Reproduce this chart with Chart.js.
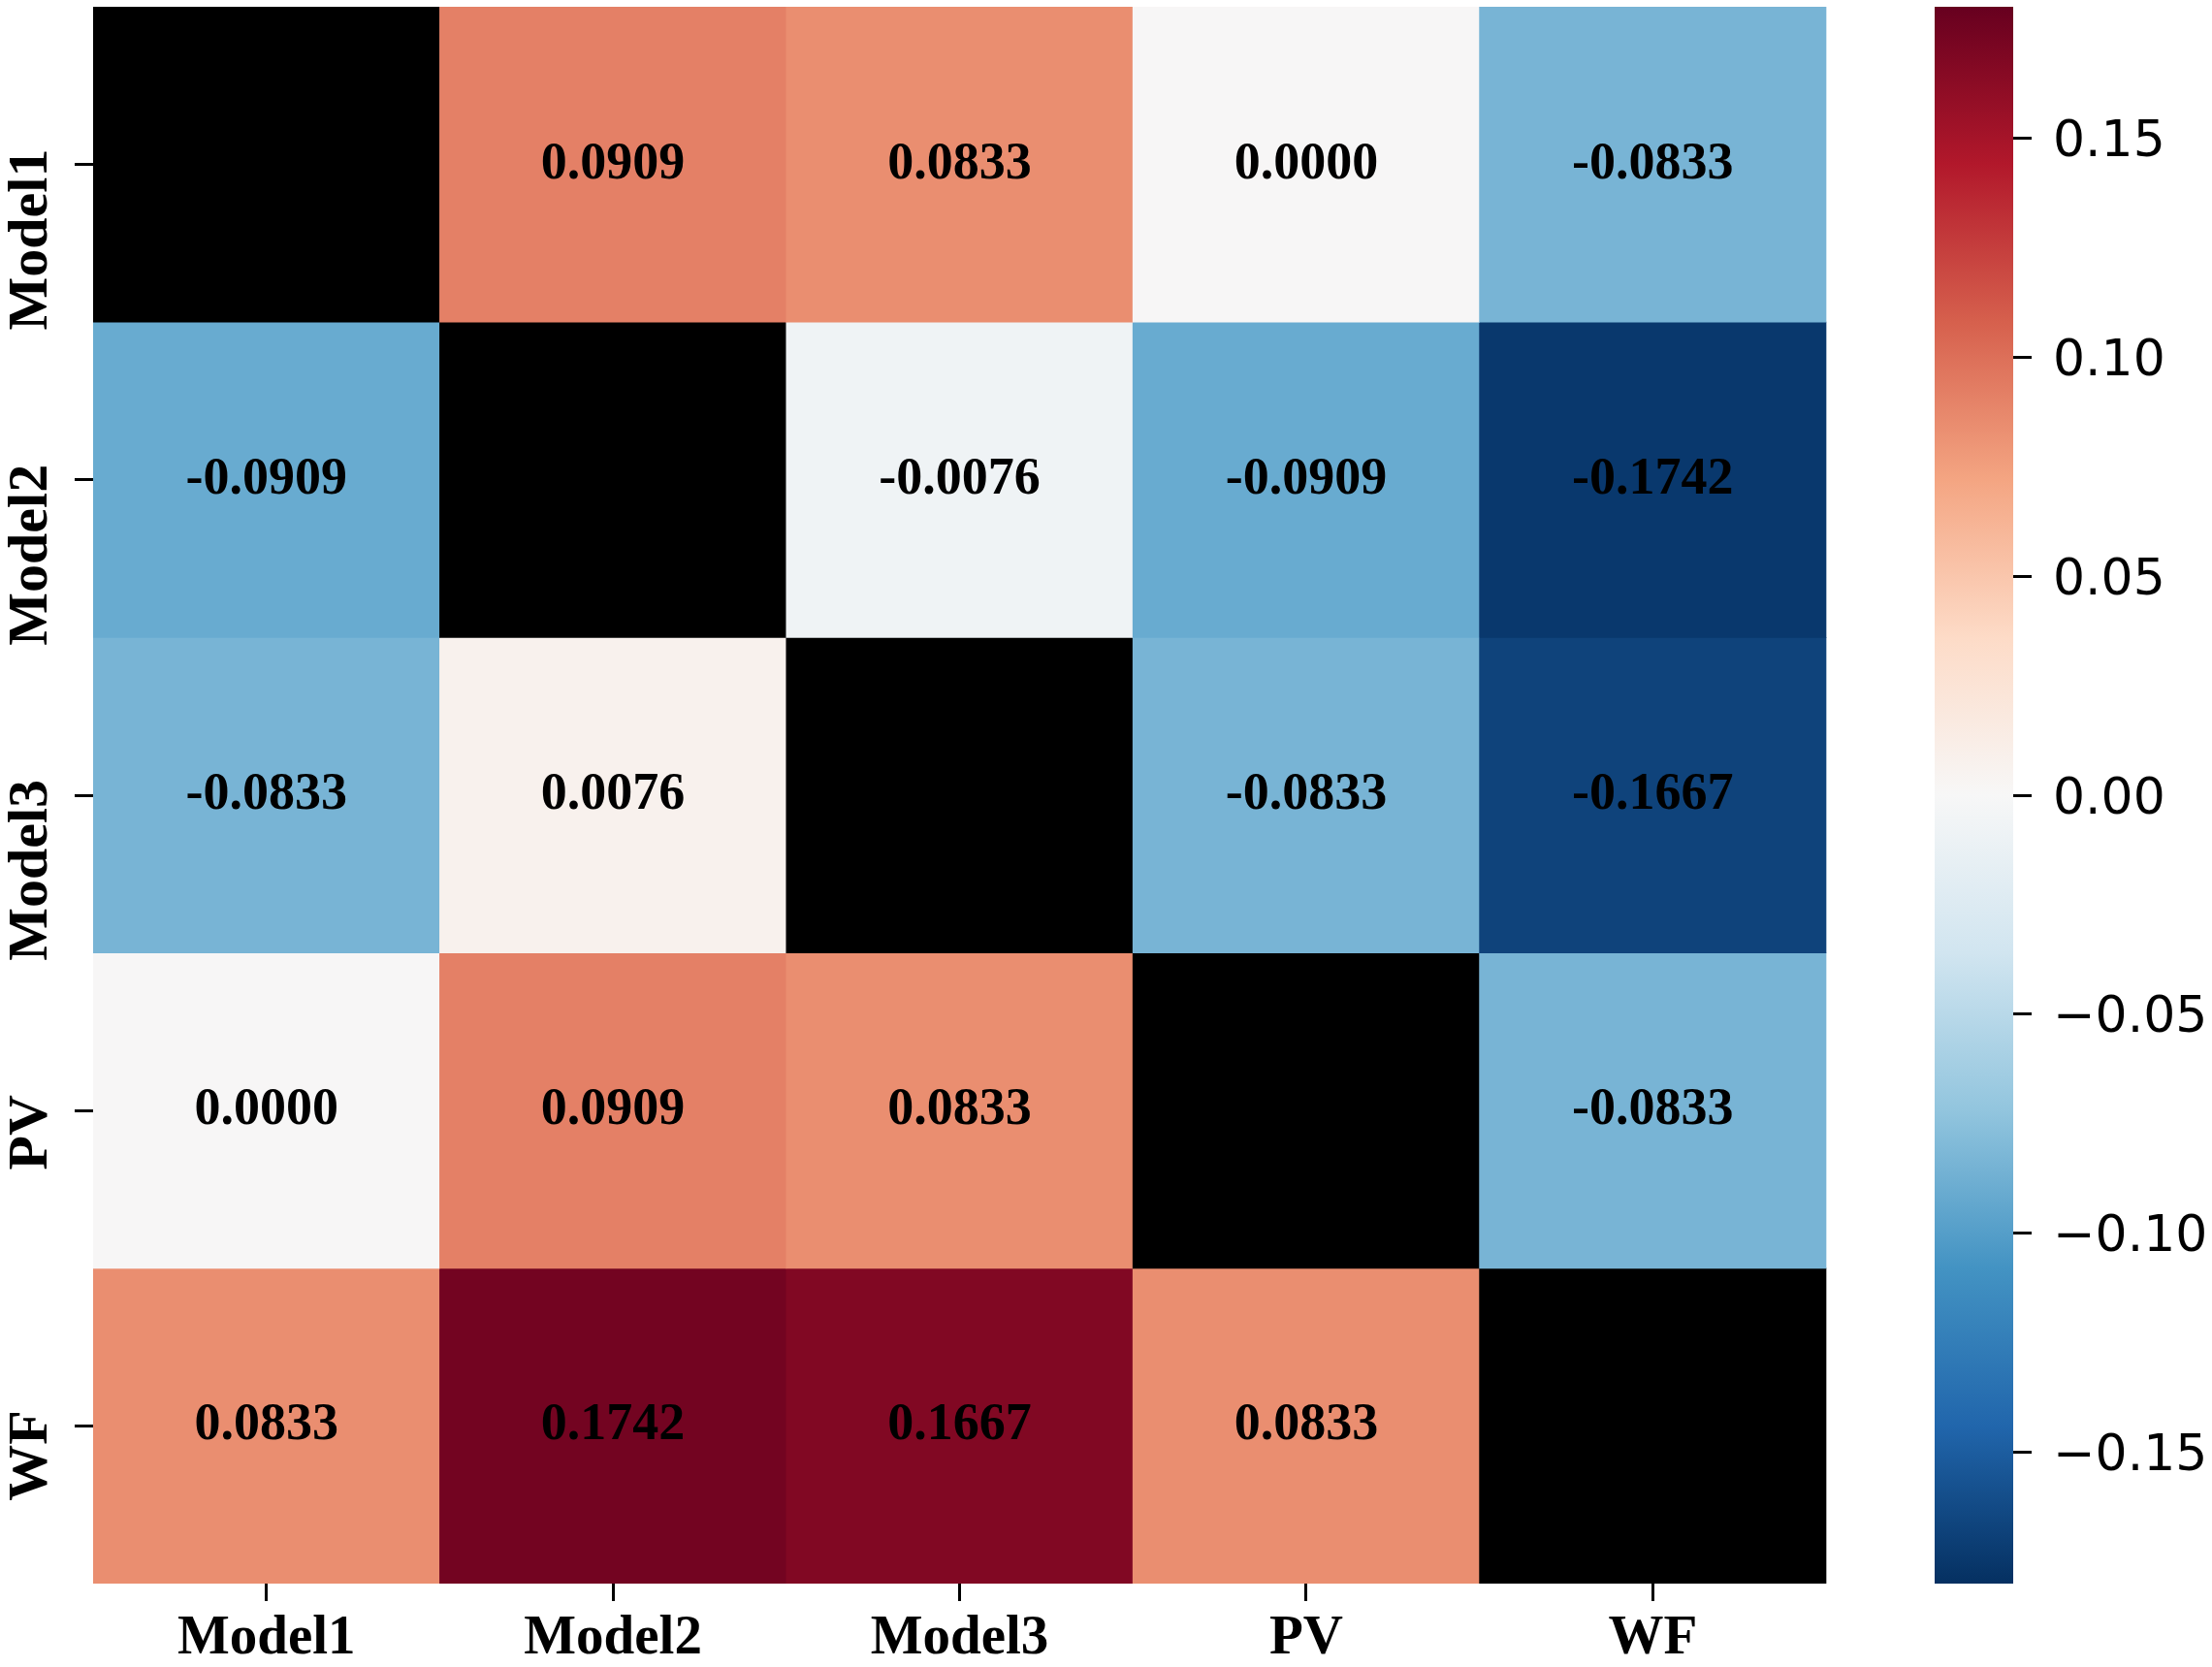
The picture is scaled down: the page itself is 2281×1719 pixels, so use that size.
<!DOCTYPE html>
<html><head><meta charset="utf-8">
<style>html,body{margin:0;padding:0;background:#fff;overflow:hidden}canvas{display:block}</style>
<script src="https://cdn.jsdelivr.net/npm/chart.js@4.4.1/dist/chart.umd.min.js"></script>
</head><body>
<canvas id="c" width="2281" height="1719"></canvas>
<script>
// ---- data ----
const rowLabels = ['Model1','Model2','Model3','PV','WF'];
const colLabels = ['Model1','Model2','Model3','PV','WF'];
const rowModel1 = [null, 0.0909, 0.0833, 0.0000, -0.0833];
const rowModel2 = [-0.0909, null, -0.0076, -0.0909, -0.1742];
const rowModel3 = [-0.0833, 0.0076, null, -0.0833, -0.1667];
const rowPV     = [0.0000, 0.0909, 0.0833, null, -0.0833];
const rowWF     = [0.0833, 0.1742, 0.1667, 0.0833, null];
const colorbarTicks = [-0.15, -0.10, -0.05, 0.00, 0.05, 0.10, 0.15];
const vmin = -0.18, vmax = 0.18;
const matrix = [rowModel1, rowModel2, rowModel3, rowPV, rowWF];

// ---- colormap (RdBu_r, 256-entry lookup like matplotlib) ----
const RDBU_R = ['#053061','#2166ac','#4393c3','#92c5de','#d1e5f0','#f7f7f7','#fddbc7','#f4a582','#d6604d','#b2182b','#67001f'];
function hexToRgb(h){return [parseInt(h.slice(1,3),16),parseInt(h.slice(3,5),16),parseInt(h.slice(5,7),16)];}
function cmap(v){
  let t = (v - vmin) / (vmax - vmin); t = Math.max(0, Math.min(1, t));
  const idx = Math.min(255, Math.floor(t * 256));
  t = idx / 255;
  const p = t * (RDBU_R.length - 1);
  const i = Math.min(Math.floor(p), RDBU_R.length - 2); const f = p - i;
  const a = hexToRgb(RDBU_R[i]), b = hexToRgb(RDBU_R[i+1]);
  return 'rgb(' + a.map((c,k)=>Math.round(c + (b[k]-c)*f)).join(',') + ')';
}

// ---- layout ----
const W = 2281, H = 1719;
const AREA_LEFT = 96, AREA_TOP = 7, AREA_BOTTOM = 1633;
const HEAT_RIGHT = 1883, CB_LEFT = 1995, CB_RIGHT = 2076;
const unitPx = (HEAT_RIGHT - AREA_LEFT) / colLabels.length;
const xMax = -0.5 + (CB_RIGHT - AREA_LEFT) / unitPx;
const SERIF = '"Liberation Serif", "Times New Roman", serif';

function noPad(s){ s.paddingTop = 0; s.paddingBottom = 0; s.paddingLeft = 0; s.paddingRight = 0; }
function fmtTick(v){ return (v < -1e-9 ? '\u2212' : '') + Math.abs(v).toFixed(2); }

const datasets = matrix.map((row, i) => ({
  type: 'bar',
  label: rowLabels[i],
  data: row.map((v, j) => ({ x: j, y: [i - 0.5, i + 0.5], v: v })),
  backgroundColor: row.map(v => v === null ? '#000000' : cmap(v)),
  borderWidth: 0,
  grouped: false,
  barPercentage: 1,
  categoryPercentage: 1,
  xAxisID: 'x',
  yAxisID: 'y'
}));

const colorbarPlugin = {
  id: 'colorbar',
  beforeDatasetsDraw(chart) {
    const { ctx, scales: { y2 } } = chart;
    const top = y2.getPixelForValue(vmax), bot = y2.getPixelForValue(vmin);
    const right = chart.chartArea.right;
    const g = ctx.createLinearGradient(0, bot, 0, top);
    RDBU_R.forEach((c, k) => g.addColorStop(k / (RDBU_R.length - 1), c));
    ctx.save();
    ctx.fillStyle = g;
    ctx.fillRect(CB_LEFT, top, right - CB_LEFT, bot - top);
    ctx.restore();
  },
  afterDraw(chart) {
    const { ctx, scales: { y2 } } = chart;
    const right = chart.chartArea.right;
    ctx.save();
    ctx.fillStyle = '#000';
    ctx.font = '52px "DejaVu Sans"';
    ctx.textAlign = 'left';
    ctx.textBaseline = 'middle';
    colorbarTicks.forEach(v => {
      ctx.fillText(fmtTick(v), right + 41, y2.getPixelForValue(v) + 5);
    });
    ctx.restore();
  }
};

const labelsPlugin = {
  id: 'heatLabels',
  afterDatasetsDraw(chart) {
    const { ctx, scales: { x, y } } = chart;
    ctx.save();
    ctx.fillStyle = '#000';
    ctx.font = 'bold 54px ' + SERIF;
    ctx.textAlign = 'center';
    ctx.textBaseline = 'middle';
    matrix.forEach((row, i) => row.forEach((v, j) => {
      if (v === null) return;
      ctx.fillText(v.toFixed(4), x.getPixelForValue(j), y.getPixelForValue(i));
    }));
    // rotated row labels
    ctx.font = 'bold 58px ' + SERIF;
    ctx.textAlign = 'right';
    ctx.textBaseline = 'alphabetic';
    rowLabels.forEach((lab, i) => {
      const py = y.getPixelForValue(i);
      ctx.save();
      ctx.translate(48, py - 16);
      ctx.rotate(-Math.PI / 2);
      ctx.fillText(lab, 0, 0);
      ctx.restore();
    });
    ctx.restore();
  }
};

new Chart(document.getElementById('c'), {
  type: 'bar',
  data: { datasets },
  options: {
    responsive: false,
    devicePixelRatio: 1,
    animation: false,
    events: [],
    layout: { padding: { top: AREA_TOP, left: 0, right: 0, bottom: 0 } },
    plugins: { legend: { display: false }, tooltip: { enabled: false } },
    scales: {
      x: {
        type: 'linear', position: 'bottom', min: -0.5, max: xMax, offset: false,
        afterBuildTicks: s => { s.ticks = colLabels.map((_, j) => ({ value: j })); },
        afterFit: s => { s.height = H - AREA_BOTTOM; noPad(s); },
        ticks: {
          callback: v => colLabels[v], autoSkip: false, maxRotation: 0, minRotation: 0,
          font: { family: SERIF, size: 57, weight: 'bold' }, color: '#000', padding: 5
        },
        grid: { display: true, drawOnChartArea: false, drawTicks: true, tickLength: 18, color: '#000', lineWidth: 3, offset: false },
        border: { display: false }
      },
      y: {
        type: 'linear', position: 'left', min: -0.5, max: 4.5, reverse: true,
        afterBuildTicks: s => { s.ticks = rowLabels.map((_, i) => ({ value: i })); },
        afterFit: s => { s.width = AREA_LEFT; noPad(s); },
        ticks: { callback: () => '', padding: 0 },
        grid: { display: true, drawOnChartArea: false, drawTicks: true, tickLength: 19, color: '#000', lineWidth: 3 },
        border: { display: false }
      },
      y2: {
        type: 'linear', position: 'right', min: vmin, max: vmax,
        afterBuildTicks: s => { s.ticks = colorbarTicks.map(v => ({ value: v })); },
        afterFit: s => { s.width = W - CB_RIGHT; noPad(s); },
        ticks: { callback: () => '', padding: 0 },
        grid: { display: true, drawOnChartArea: false, drawTicks: true, tickLength: 19, color: '#000', lineWidth: 3 },
        border: { display: false }
      }
    }
  },
  plugins: [colorbarPlugin, labelsPlugin]
});
</script>
</body></html>
